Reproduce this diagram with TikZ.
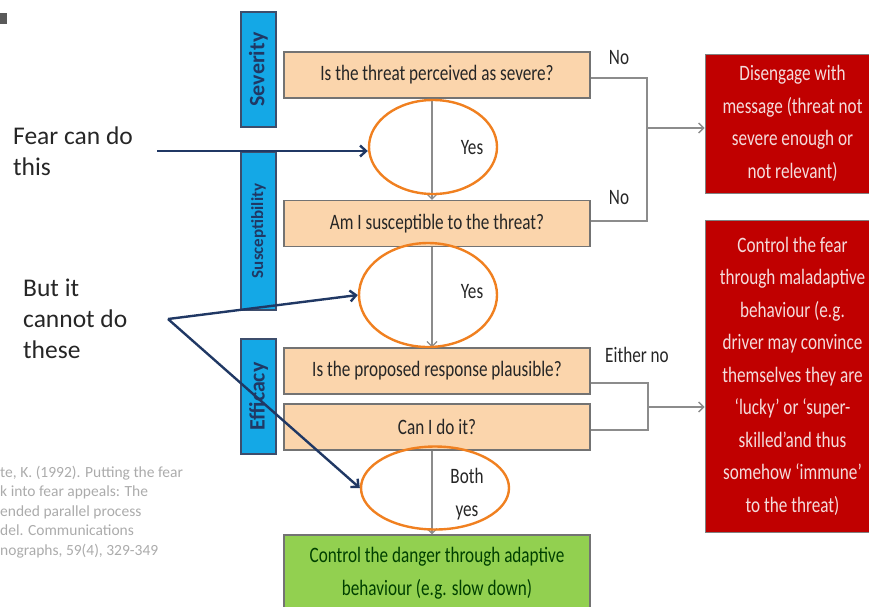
\documentclass[tikz,border=0pt]{standalone}
\usepackage{fontspec}
\setmainfont{Carlito}
\newfontfamily\narrowfont[FakeStretch=0.78]{Carlito}
\usetikzlibrary{arrows.meta,positioning,shapes.geometric}
\definecolor{peach}{HTML}{FBD5AC}
\definecolor{barblue}{HTML}{14A8E6}
\definecolor{navy}{HTML}{203864}
\definecolor{darkred}{HTML}{C00000}
\definecolor{leaf}{HTML}{92D050}
\definecolor{ringorange}{HTML}{F08020}
\definecolor{wire}{HTML}{8C8C8C}
\definecolor{ink}{HTML}{262626}
\definecolor{pale}{HTML}{F4DCDC}

\begin{document}
\begin{tikzpicture}[
    x=1pt, y=-1pt,
    every node/.style={font=\narrowfont\fontsize{22}{32.5}\selectfont, text=ink},
    bar/.style={rectangle, draw=navy!70!gray, fill=barblue, line width=1.2pt, rotate=90, minimum height=35pt, inner sep=0pt, text=navy, font=\fontsize{22}{26}\selectfont\bfseries},
    question/.style={rectangle, draw=black!55, fill=peach, line width=1.2pt, minimum width=306pt, minimum height=46pt, inner sep=0pt},
    ring/.style={ellipse, draw=ringorange, line width=2.4pt, inner sep=0pt},
    outcome/.style={rectangle, draw=black!50, fill=darkred, line width=1pt, text=pale, align=center, inner sep=0pt, minimum width=175pt},
    flow/.style={-{Straight Barb[length=5pt,width=10pt]}, draw=wire, line width=1.3pt},
    link/.style={draw=wire, line width=1.3pt},
    point/.style={-{Straight Barb[length=6pt,width=11pt]}, draw=navy, line width=2.4pt},
    side/.style={font=\fontsize{25.5}{31}\selectfont, align=left, anchor=west, inner sep=0pt},
    cite/.style={font=\fontsize{15.5}{19.5}\selectfont, text=black!33, align=left, anchor=west, inner sep=0pt}
]
\useasboundingbox (0,0) rectangle (869,606);

% slide bullet
\fill[black!65] (0,13) rectangle (7,24);

% Stage bars
\node[bar, minimum width=115pt] (sev) at (258.5,69.5) {Severity};
\node[bar, minimum width=158pt, font=\fontsize{17}{20}\selectfont\bfseries] (sus) at (258.5,231) {Susceptibility};
\node[bar, minimum width=115pt] (eff) at (258.5,396.5) {Efficacy};

% Questions
\node[question] (q1) at (437,75) {Is the threat perceived as severe?};
\node[question] (q2) at (437,223.5) {Am I susceptible to the threat?};
\node[question] (q3) at (437,371) {Is the proposed response plausible?};
\node[question] (q4) at (437,427) {Can I do it?};
\node[question, fill=leaf, minimum height=76pt, align=center, text=black!75!green] (ctrl) at (437,573) {Control the danger through adaptive\\behaviour (e.g. slow down)};

% Outcomes
\node[outcome, minimum height=139pt] (dis) at (792.5,123.5) {Disengage with\\message (threat not\\severe enough or\\not relevant)};
\node[outcome, minimum height=312pt] (mal) at (792.5,376) {Control the fear\\through maladaptive\\behaviour (e.g.\\driver may convince\\themselves they are\\‘lucky’ or ‘super-\\skilled’and thus\\somehow ‘immune’\\to the threat)};

% Main spine
\coordinate (spine) at (432,0);
\draw[flow] (q1.south -| spine) -- (q2.north -| spine);
\draw[flow] (q2.south -| spine) -- (q3.north -| spine);
\draw[flow] (q4.south -| spine) -- (ctrl.north -| spine);

% Highlight rings
\node[ring, minimum width=128pt, minimum height=94pt] (e1) at (433,147) {};
\node[ring, minimum width=138pt, minimum height=104pt] (e2) at (428,295) {};
\node[ring, minimum width=148pt, minimum height=83pt] (e3) at (435,488) {};
\node (yes1) at (472,148) {Yes};
\node (yes2) at (472,292) {Yes};
\node[align=center] (yes3) at (467,494) {Both\\yes};

% No branches
\coordinate (j1) at (647,128);
\draw[link] ([yshift=-3pt]q1.east) -| (j1) |- ([yshift=2.5pt]q2.east);
\draw[flow] (j1) -- (j1 -| dis.west);
\node (no1) at (619,58) {No};
\node (no2) at (619,198) {No};

\coordinate (j2) at (648,407);
\draw[link] ([yshift=-12pt]q3.east) -| (j2) |- ([yshift=-3pt]q4.east);
\draw[flow] (j2) -- (j2 -| mal.west);
\node (either) at (637,355) {Either no};

% Side notes
\node[side] (fear) at (13,151.5) {Fear can do\\this};
\coordinate (fearpt) at (157,151);
\draw[point] (fearpt) -- ([yshift=-4pt]e1.west);

\node[side] (but) at (23,319) {But it\\cannot do\\these};
\coordinate (butpt) at (168,319);
\draw[point] (butpt) -- (e2.west);
\draw[point] (butpt) -- (e3.west);

\node[cite] (ref) at (0,512) {te, K. (1992). Putting the fear\\k into fear appeals: The\\ended parallel process\\del. Communications\\nographs, 59(4), 329-349};

\end{tikzpicture}
\end{document}
